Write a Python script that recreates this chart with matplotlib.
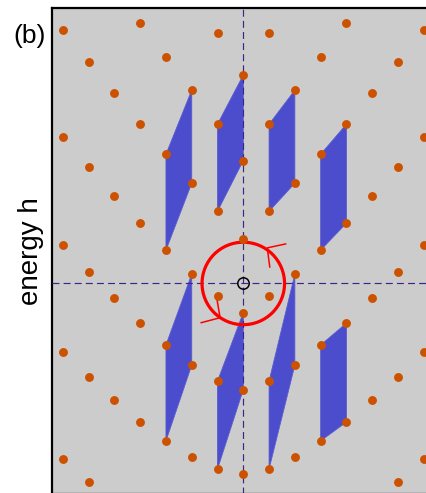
import matplotlib
matplotlib.use("Agg")
import matplotlib.pyplot as plt
from matplotlib.patches import Polygon, Circle

plt.rcParams['font.family'] = ['Liberation Sans', 'DejaVu Sans']
plt.rcParams['lines.scale_dashes'] = False

# ---- data (column index k, energy levels; pattern is mirror-symmetric in k) ----
columns = [0, 1, 2, 3, 4, 5, 6, 7]
levels = [
    [8.09, 4.77, 1.74, -1.13, -4.12, -7.39],
    [9.71, 6.18, 2.80, -0.49, -3.79, -7.20],
    [7.50, 3.89, 0.36, -3.17, -6.74],
    [8.77, 5.01, 1.29, -2.39, -6.11],
    [10.09, 6.18, 2.34, -1.54, -5.38],
    [7.38, 3.39, -0.57, -4.53],
    [8.58, 4.51, 0.44, -3.63, -7.70],
    [9.82, 5.67, 1.49, -2.66, -6.81],
]

# shaded windows: vertices (k, energy)
windows = [
    [(-2, 7.50), (-2, 3.89), (-3, 1.29), (-3, 5.01)],
    [(0, 8.09), (0, 4.77), (-1, 2.80), (-1, 6.18)],
    [(2, 7.50), (2, 3.89), (1, 2.80), (1, 6.18)],
    [(4, 6.18), (4, 2.34), (3, 1.29), (3, 5.01)],
    [(-2, 0.36), (-2, -3.17), (-3, -6.11), (-3, -2.39)],
    [(0, -1.13), (0, -4.12), (-1, -7.20), (-1, -3.79)],
    [(2, 0.36), (2, -3.17), (1, -7.20), (1, -3.79)],
    [(4, -1.54), (4, -5.38), (3, -6.11), (3, -2.39)],
]

circle_radius = 1.60
arrow_heads = [
    [(1.67, 1.54), (0.93, 1.38), (1.03, 0.61)],
    [(-1.66, -1.53), (-0.90, -1.33), (-1.02, -0.62)],
]

# ---- figure ----
W, H = 426, 493
fig = plt.figure(figsize=(W / 100, H / 100), dpi=100)
ax = fig.add_axes([52 / W, -0.002, 0.8981, 0.9848])
ax.set_facecolor('#cccccc')
ax.set_xlim(-7.42, 7.42)
ax.set_ylim(-8.17, 10.67)
ax.set_xticks([])
ax.set_yticks([])
for side in ['left', 'top', 'right', 'bottom']:
    ax.spines[side].set_linewidth(1.6)

blue = '#4b4dcc'
for verts in windows:
    ax.add_patch(Polygon(verts, closed=True, facecolor=blue, edgecolor='#5a5cd0',
                         linewidth=0.6, zorder=2))

dash_col = '#3d2487'
ax.axvline(0, color=dash_col, lw=0.85, dashes=(5, 3), zorder=3)
ax.axhline(0, color=dash_col, lw=0.85, dashes=(5, 3), zorder=3)

ax.add_patch(Circle((0, 0), circle_radius, fill=False, edgecolor='#ff0000',
                    linewidth=2.3, zorder=4))
for head in arrow_heads:
    xs = [p[0] for p in head]
    ys = [p[1] for p in head]
    ax.plot(xs, ys, color='#ff0000', lw=1.1, zorder=4, solid_capstyle='butt')

dot_col = '#cc5200'
for k, lv in zip(columns, levels):
    ks = [k] * len(lv)
    ax.plot(ks, lv, 'o', color=dot_col, ms=6.4, mew=0, zorder=5)
    if k != 0:
        ax.plot([-k] * len(lv), lv, 'o', color=dot_col, ms=6.4, mew=0, zorder=5)

ax.plot([0], [0], 'o', mfc='none', mec='black', ms=8.2, mew=1.1, zorder=6)

fig.text(30 / W, 1 - 35.5 / H, '(b)', ha='center', va='center', fontsize=19)
fig.text(30.5 / W, 1 - 251.5 / H, 'energy h', ha='center', va='center',
         rotation=90, fontsize=20)

fig.savefig('out.png', dpi=100)
